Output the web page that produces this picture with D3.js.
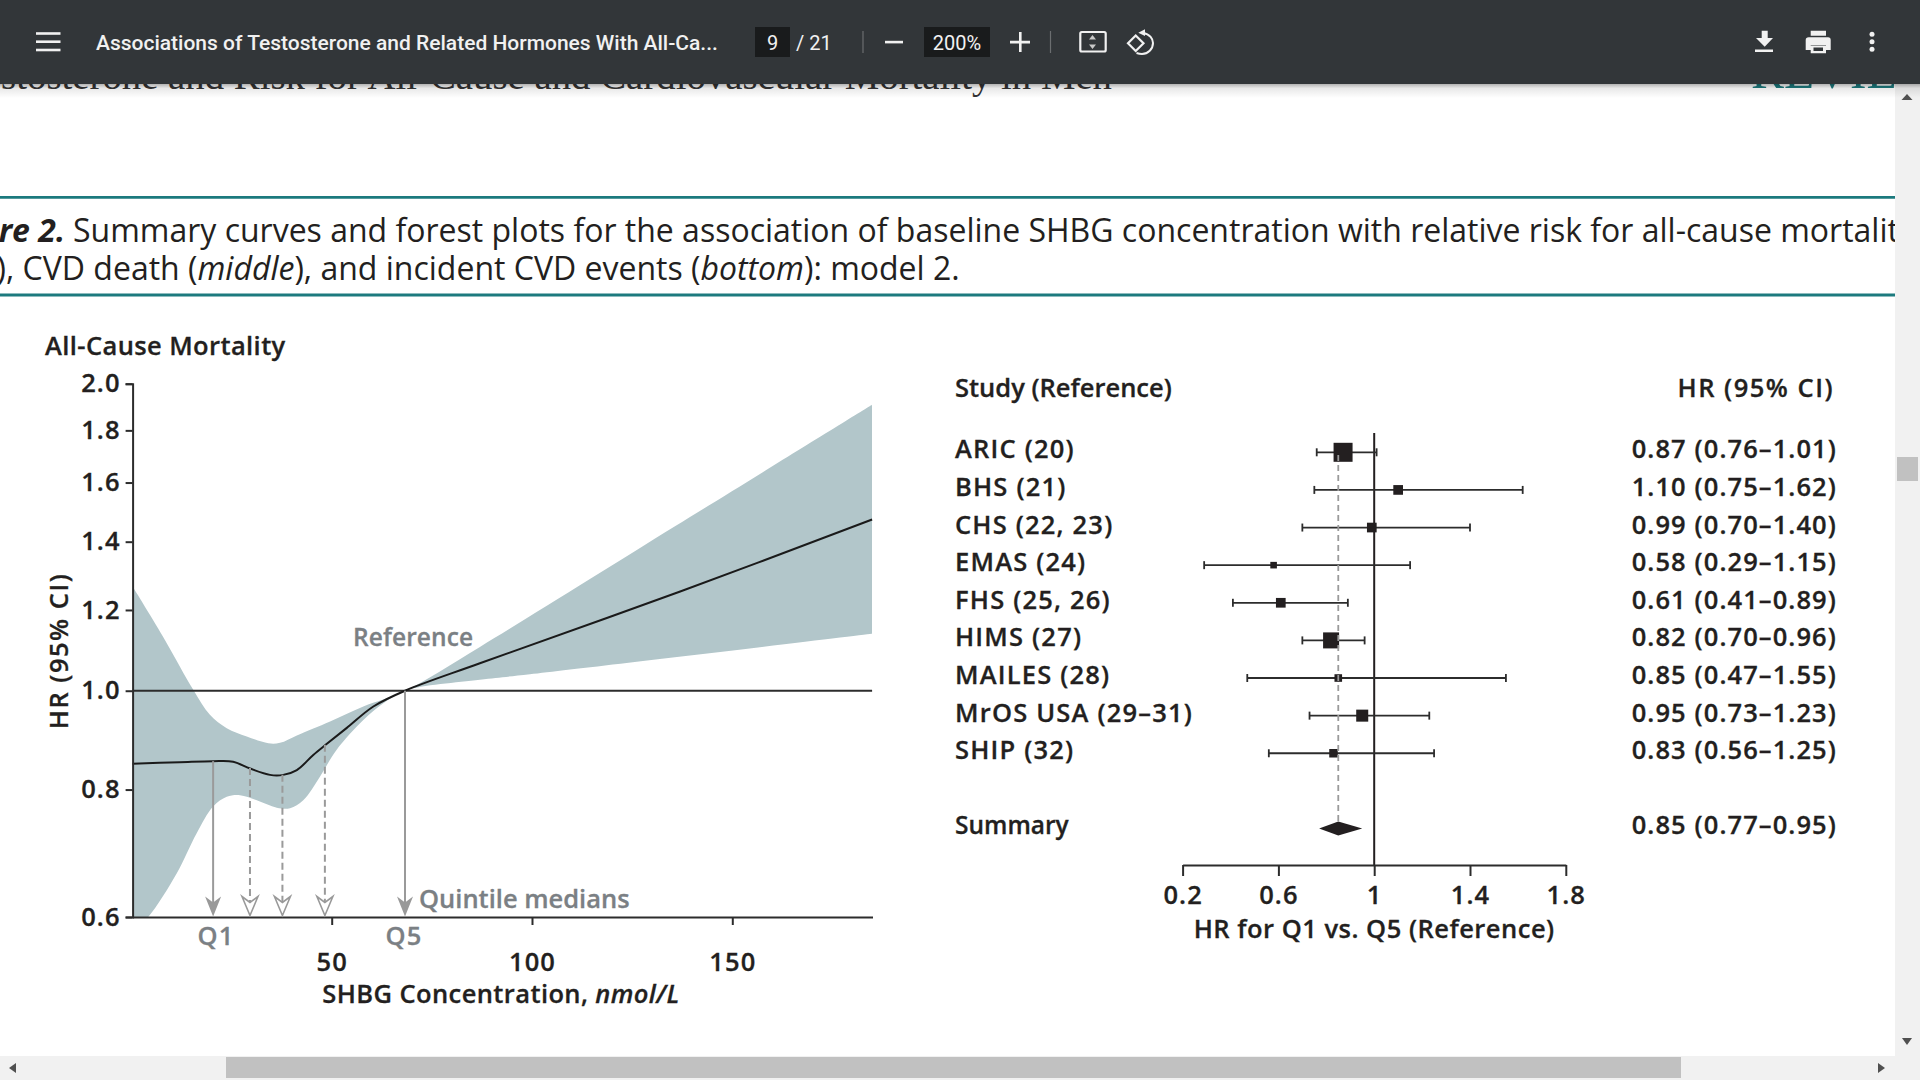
<!DOCTYPE html>
<html>
<head>
<meta charset="utf-8">
<title>SHBG and all-cause mortality</title>
<script src="https://cdn.jsdelivr.net/npm/d3@7"></script>
<style>
    html, body { margin: 0; padding: 0; background: #fff; overflow: hidden; }
    svg { display: block; }
    text { font-family: "Open Sans", sans-serif; }
    .chart-text { font-weight: 600; fill: #231f20; stroke: #231f20; stroke-width: 0.3px; font-size: 25.5px; }
    .grey-text { font-weight: 600; fill: #7b8084; stroke: #7b8084; stroke-width: 0.3px; font-size: 25.5px; }
    .caption { font-size: 32px; fill: #231f20; }
    .toolbar-text { font-family: Roboto, sans-serif; fill: #f1f1f1; font-size: 20px; }
</style>
</head>
<body>
<div id="chart"></div>
<script>
// Summary curve: [SHBG nmol/L, HR]
const curveCenter = [[0.3, 0.848], [12.1, 0.851], [20.4, 0.853], [25.4, 0.852], [29.6, 0.839], [34.6, 0.827], [37.9, 0.827],
    [41.3, 0.836], [45.4, 0.865], [48.8, 0.887], [53.7, 0.919], [60.4, 0.965], [68.3, 1.0], [87, 1.064], [137, 1.251], [184.9, 1.472]];
const curveUpper = [[0.3, 1.265], [8.4, 1.121], [15.45, 1.002], [19.6, 0.947], [23.8, 0.919], [28.8, 0.902], [34.2, 0.888], [37.1, 0.889],
    [41.3, 0.904], [49.6, 0.933], [57.9, 0.965], [68.3, 1.0], [87, 1.104], [135.9, 1.451], [184.9, 1.907]];
const curveLower = [[0.3, 0.58], [4.2, 0.6], [11.3, 0.662], [16.3, 0.725], [20.4, 0.77], [23.8, 0.787], [27.1, 0.79], [31.3, 0.781], [36.3, 0.768],
    [39.6, 0.767], [42.9, 0.781], [47.1, 0.824], [51.2, 0.875], [57.9, 0.936], [62.9, 0.972], [68.3, 1.0], [87, 1.025], [99.5, 1.038], [184.9, 1.137]];

// Quintile medians
const quintileShbg = [20.4, 29.6, 37.7, 48.3, 68.3];
const quintileHr = [0.853, 0.84, 0.827, 0.885, 1.0];
const quintileSolid = [true, false, false, false, true];

const curveYTicks = [0.6, 0.8, 1.0, 1.2, 1.4, 1.6, 1.8, 2.0];
const curveXTicks = [50, 100, 150];

// Forest plot
const studies = ["ARIC (20)", "BHS (21)", "CHS (22, 23)", "EMAS (24)", "FHS (25, 26)", "HIMS (27)", "MAILES (28)", "MrOS USA (29–31)", "SHIP (32)"];
const studyHr = [0.87, 1.10, 0.99, 0.58, 0.61, 0.82, 0.85, 0.95, 0.83];
const studyLow = [0.76, 0.75, 0.70, 0.29, 0.41, 0.70, 0.47, 0.73, 0.56];
const studyHigh = [1.01, 1.62, 1.40, 1.15, 0.89, 0.96, 1.55, 1.23, 1.25];
const studyWeight = [100, 26, 26, 12, 26, 71, 16, 40, 20];
const summaryHr = [0.85, 0.77, 0.95];
const forestTicks = [0.2, 0.6, 1, 1.4, 1.8];

const svg = d3.select("#chart").append("svg")
    .attr("width", 1920)
    .attr("height", 1080);

function hrLabel(hr, low, high) {
    return hr.toFixed(2) + " (" + low.toFixed(2) + "–" + high.toFixed(2) + ")";
}

function renderPageText() {
    // Running head that scrolled under the toolbar
    svg.append("text")
        .attr("x", 1112).attr("y", 89)
        .attr("text-anchor", "end")
        .style("font-family", "'Liberation Serif', serif")
        .style("font-size", "38.8px")
        .style("fill", "#333")
        .text("Testosterone and Risk for All-Cause and Cardiovascular Mortality in Men");
    svg.append("text")
        .attr("x", 1751).attr("y", 88)
        .style("font-family", "'Liberation Serif', serif")
        .style("font-size", "49.5px")
        .style("fill", "#1c7a7e")
        .text("REVIEW");

    svg.selectAll("caption-rule")
        .data([197.3, 295])
        .enter()
        .append("line")
        .attr("x1", 0).attr("x2", 1895)
        .attr("y1", function (d) { return d; })
        .attr("y2", function (d) { return d; })
        .style("stroke", "#1c7a7e")
        .style("stroke-width", 2.8);

    svg.append("text")
        .attr("class", "caption")
        .attr("x", 65).attr("y", 242)
        .attr("text-anchor", "end")
        .style("font-weight", 700)
        .style("font-style", "italic")
        .text("Figure 2.");
    svg.append("text")
        .attr("class", "caption")
        .attr("x", 73).attr("y", 242)
        .text("Summary curves and forest plots for the association of baseline SHBG concentration with relative risk for all-cause mortality (top)");

    const head = svg.append("text").attr("class", "caption").attr("x", 6).attr("y", 280).attr("text-anchor", "end");
    head.append("tspan").text("(");
    head.append("tspan").style("font-style", "italic").text("top");
    head.append("tspan").text(")");

    const line2 = svg.append("text").attr("class", "caption").attr("x", 6).attr("y", 280);
    line2.append("tspan").text(", CVD death (");
    line2.append("tspan").style("font-style", "italic").text("middle");
    line2.append("tspan").text("), and incident CVD events (");
    line2.append("tspan").style("font-style", "italic").text("bottom");
    line2.append("tspan").text("): model 2.");
}

function renderCurveChart() {
    const x = d3.scaleLinear()
        .domain([0.3, 185])
        .range([132.6, 872.5]);
    const y = d3.scaleLog()
        .domain([0.6, 2])
        .range([917, 383.7]);

    const line = d3.line()
        .x(function (d) { return x(d[0]); })
        .y(function (d) { return y(d[1]); })
        .curve(d3.curveCatmullRom.alpha(0.5));

    svg.append("clipPath")
        .attr("id", "curve-clip")
        .append("rect")
        .attr("x", x(0.3)).attr("y", y(2))
        .attr("width", x(184.9) - x(0.3)).attr("height", y(0.6) - y(2));

    // Confidence band: upper edge, then lower edge walked backwards
    const upperPath = line(curveUpper);
    const lowerPath = line(curveLower.slice().reverse());
    svg.append("path")
        .attr("d", upperPath + "L" + lowerPath.slice(1) + "Z")
        .attr("clip-path", "url(#curve-clip)")
        .style("fill", "#b2c6ca");

    // Reference line
    svg.append("line")
        .attr("x1", x(0.3)).attr("x2", x(184.9))
        .attr("y1", y(1)).attr("y2", y(1))
        .style("stroke", "#2c2c2c")
        .style("stroke-width", 1.8);

    svg.append("path")
        .attr("d", line(curveCenter))
        .style("fill", "none")
        .style("stroke", "#1a1a1a")
        .style("stroke-width", 2);

    // Y axis
    const yAxis = svg.append("g")
        .attr("transform", "translate(" + x(0.3) + ",0)")
        .call(d3.axisLeft(y).tickValues(curveYTicks).tickFormat(d3.format(".1f")).tickSize(7).tickPadding(5));
    // X axis
    const xAxis = svg.append("g")
        .attr("transform", "translate(0," + y(0.6) + ")")
        .call(d3.axisBottom(x).tickValues(curveXTicks).tickSize(8).tickSizeOuter(0).tickPadding(28.2));
    [yAxis, xAxis].forEach(function (axis) {
        axis.select(".domain").style("stroke", "#2c2c2c").style("stroke-width", 2);
        axis.selectAll(".tick line").style("stroke", "#2c2c2c").style("stroke-width", 2);
        axis.selectAll("text").attr("class", "chart-text").style("letter-spacing", "1.1px");
    });

    // Quintile arrows
    const arrows = svg.selectAll("quintile-arrow")
        .data(quintileShbg)
        .enter()
        .append("g");
    arrows.append("line")
        .attr("x1", function (d) { return x(d); })
        .attr("x2", function (d) { return x(d); })
        .attr("y1", function (d, i) { return y(quintileHr[i]); })
        .attr("y2", function (d, i) { return y(0.6) - 12; })
        .style("stroke", "#9a9a9a")
        .style("stroke-width", 2)
        .style("stroke-dasharray", function (d, i) { return quintileSolid[i] ? null : "7,4"; });
    arrows.append("path")
        .attr("transform", function (d) { return "translate(" + x(d) + "," + (y(0.6) - 0.5) + ")"; })
        .attr("d", function (d, i) {
            return quintileSolid[i] ? "M0,0L-8,-20L0,-14L8,-20Z" : "M0,-1L-8,-20L0,-14L8,-20Z";
        })
        .style("fill", function (d, i) { return quintileSolid[i] ? "#999" : "#fff"; })
        .style("stroke", "#999")
        .style("stroke-width", function (d, i) { return quintileSolid[i] ? 0 : 1.6; });

    svg.append("text")
        .attr("class", "grey-text")
        .attr("x", 353).attr("y", 646)
        .style("font-size", "24.5px")
        .style("letter-spacing", "0.1px")
        .text("Reference");
    svg.append("text")
        .attr("class", "grey-text")
        .attr("x", 419).attr("y", 908)
        .text("Quintile medians");
    svg.selectAll("quintile-name")
        .data([["Q1", x(quintileShbg[0]) + 3], ["Q5", x(quintileShbg[4]) - 1]])
        .enter()
        .append("text")
        .attr("class", "grey-text")
        .attr("x", function (d) { return d[1]; })
        .attr("y", 945)
        .attr("text-anchor", "middle")
        .style("letter-spacing", "1.2px")
        .text(function (d) { return d[0]; });

    svg.append("text")
        .attr("class", "chart-text")
        .attr("x", 45).attr("y", 355)
        .style("letter-spacing", "0.4px")
        .text("All-Cause Mortality");
    svg.append("text")
        .attr("class", "chart-text")
        .attr("transform", "translate(68,651) rotate(-90)")
        .attr("text-anchor", "middle")
        .style("letter-spacing", "1.5px")
        .text("HR (95% CI)");

    const xTitle = svg.append("text")
        .attr("class", "chart-text")
        .attr("x", 501).attr("y", 1002.5)
        .attr("text-anchor", "middle")
        .style("letter-spacing", "0.4px");
    xTitle.append("tspan").text("SHBG Concentration, ");
    xTitle.append("tspan").style("font-style", "italic").text("nmol/L");
}

function renderForestPlot() {
    const x = d3.scaleLinear()
        .domain([0.2, 1.8])
        .range([1182.6, 1565.8]);
    const row = d3.scaleLinear()
        .domain([0, 10])
        .range([452.3, 828.5]);
    const box = d3.scaleSqrt()
        .domain([0, 100])
        .range([0, 19]);

    // Line of no effect
    svg.append("line")
        .attr("x1", x(1)).attr("x2", x(1))
        .attr("y1", 433).attr("y2", 865)
        .style("stroke", "#231f20")
        .style("stroke-width", 2);

    const rows = svg.selectAll("forest-row")
        .data(studies)
        .enter()
        .append("g")
        .attr("transform", function (d, i) { return "translate(0," + row(i) + ")"; });

    rows.append("line")
        .attr("x1", function (d, i) { return x(studyLow[i]); })
        .attr("x2", function (d, i) { return x(studyHigh[i]); })
        .style("stroke", "#2c2c2c")
        .style("stroke-width", 1.8);
    [studyLow, studyHigh].forEach(function (ends) {
        rows.append("line")
            .attr("x1", function (d, i) { return x(ends[i]); })
            .attr("x2", function (d, i) { return x(ends[i]); })
            .attr("y1", -4).attr("y2", 4)
            .style("stroke", "#2c2c2c")
            .style("stroke-width", 1.8);
    });
    rows.append("rect")
        .attr("x", function (d, i) { return x(studyHr[i]) - box(studyWeight[i]) / 2; })
        .attr("y", function (d, i) { return -box(studyWeight[i]) / 2; })
        .attr("width", function (d, i) { return box(studyWeight[i]); })
        .attr("height", function (d, i) { return box(studyWeight[i]); })
        .style("fill", "#231f20");
    rows.append("text")
        .attr("class", "chart-text")
        .attr("x", 955).attr("y", 6)
        .style("letter-spacing", "1.2px")
        .text(function (d) { return d; });
    rows.append("text")
        .attr("class", "chart-text")
        .attr("x", 1837).attr("y", 6)
        .attr("text-anchor", "end")
        .style("letter-spacing", "1.1px")
        .text(function (d, i) { return hrLabel(studyHr[i], studyLow[i], studyHigh[i]); });

    // Summary estimate, dashed line sits on top of the boxes
    svg.append("line")
        .attr("x1", x(summaryHr[0])).attr("x2", x(summaryHr[0]))
        .attr("y1", 455).attr("y2", 822)
        .style("stroke", "#9a9a9a")
        .style("stroke-width", 1.8)
        .style("stroke-dasharray", "6,4");
    svg.append("path")
        .attr("d", "M" + x(summaryHr[1]) + "," + row(10)
            + "L" + x(summaryHr[0]) + "," + (row(10) - 7)
            + "L" + x(summaryHr[2]) + "," + row(10)
            + "L" + x(summaryHr[0]) + "," + (row(10) + 7) + "Z")
        .style("fill", "#231f20");
    svg.append("text")
        .attr("class", "chart-text")
        .attr("x", 955).attr("y", row(10) + 5)
        .style("font-size", "24.5px")
        .text("Summary");
    svg.append("text")
        .attr("class", "chart-text")
        .attr("x", 1837).attr("y", row(10) + 5)
        .attr("text-anchor", "end")
        .style("letter-spacing", "1.1px")
        .text(hrLabel(summaryHr[0], summaryHr[1], summaryHr[2]));

    svg.append("text")
        .attr("class", "chart-text")
        .attr("x", 955).attr("y", 396.5)
        .text("Study (Reference)");
    svg.append("text")
        .attr("class", "chart-text")
        .attr("x", 1834).attr("y", 396.5)
        .attr("text-anchor", "end")
        .style("letter-spacing", "1.5px")
        .text("HR (95% CI)");

    const axis = svg.append("g")
        .attr("transform", "translate(0,865)")
        .call(d3.axisBottom(x).tickValues(forestTicks).tickFormat(function (d) { return d; }).tickSize(11).tickSizeOuter(0).tickPadding(9.5));
    axis.select(".domain").style("stroke", "#2c2c2c").style("stroke-width", 2);
    axis.selectAll(".tick line").style("stroke", "#2c2c2c").style("stroke-width", 2);
    axis.selectAll("text").attr("class", "chart-text").style("letter-spacing", "1.1px");

    svg.append("text")
        .attr("class", "chart-text")
        .attr("x", x(1)).attr("y", 938)
        .attr("text-anchor", "middle")
        .style("letter-spacing", "0.5px")
        .text("HR for Q1 vs. Q5 (Reference)");
}

function renderViewerChrome() {
    const defs = svg.append("defs");
    const shade = defs.append("linearGradient")
        .attr("id", "toolbar-shadow")
        .attr("x1", 0).attr("x2", 0).attr("y1", 0).attr("y2", 1);
    shade.append("stop").attr("offset", 0).attr("stop-color", "#000").attr("stop-opacity", 0.3);
    shade.append("stop").attr("offset", 0.3).attr("stop-color", "#000").attr("stop-opacity", 0.09);
    shade.append("stop").attr("offset", 1).attr("stop-color", "#000").attr("stop-opacity", 0);

    // Scrollbars
    svg.append("rect").attr("x", 1895).attr("y", 84).attr("width", 25).attr("height", 996).style("fill", "#f1f1f1");
    svg.append("rect").attr("x", 0).attr("y", 1056).attr("width", 1920).attr("height", 24).style("fill", "#f1f1f1");
    svg.append("rect").attr("x", 1897).attr("y", 457).attr("width", 21).attr("height", 24).style("fill", "#c1c1c1");
    svg.append("rect").attr("x", 226).attr("y", 1057).attr("width", 1455).attr("height", 21).style("fill", "#c1c1c1");
    svg.selectAll("scroll-arrow")
        .data(["M1901.5,100L1912.5,100L1907,94Z", "M1902,1038L1912,1038L1907,1045Z", "M16,1063L16,1073L9,1068Z", "M1878,1063L1878,1073L1885,1068Z"])
        .enter()
        .append("path")
        .attr("d", function (d) { return d; })
        .style("fill", "#505050");

    // Toolbar
    svg.append("rect").attr("x", 0).attr("y", 84).attr("width", 1920).attr("height", 14).style("fill", "url(#toolbar-shadow)");
    svg.append("rect").attr("x", 0).attr("y", 0).attr("width", 1920).attr("height", 84).style("fill", "#323639");

    svg.selectAll("menu-bar")
        .data([33.5, 41.7, 50])
        .enter()
        .append("rect")
        .attr("x", 36).attr("y", function (d) { return d - 1.3; })
        .attr("width", 24.5).attr("height", 2.6)
        .style("fill", "#f1f1f1");

    svg.append("text")
        .attr("class", "toolbar-text")
        .attr("x", 96).attr("y", 50)
        .style("font-weight", 500)
        .style("font-size", "21px")
        .text("Associations of Testosterone and Related Hormones With All-Ca...");

    svg.append("rect").attr("x", 755).attr("y", 27).attr("width", 35).attr("height", 30).style("fill", "#191b1c");
    svg.append("text").attr("class", "toolbar-text").attr("x", 772.5).attr("y", 50).attr("text-anchor", "middle").text("9");
    svg.append("text").attr("class", "toolbar-text").attr("x", 796).attr("y", 50).text("/ 21");
    svg.append("rect").attr("x", 924).attr("y", 27).attr("width", 66).attr("height", 30).style("fill", "#191b1c");
    svg.append("text").attr("class", "toolbar-text").attr("x", 957).attr("y", 50).attr("text-anchor", "middle").text("200%");

    svg.selectAll("toolbar-sep")
        .data([863, 1050.5])
        .enter()
        .append("line")
        .attr("x1", function (d) { return d; }).attr("x2", function (d) { return d; })
        .attr("y1", 31).attr("y2", 53)
        .style("stroke", "#6b6e70")
        .style("stroke-width", 1.2);

    // Toolbar icons
    const icons = svg.append("g").style("fill", "#f1f1f1").style("stroke", "none");
    icons.append("path").attr("d", "M885,40.8H903V43.4H885Z");
    icons.append("path").attr("d", "M1010,40.8H1019V32H1021.6V40.8H1030V43.4H1021.6V52H1019V43.4H1010Z");
    icons.append("rect").attr("x", 1080.3).attr("y", 32).attr("width", 25.4).attr("height", 19.5).attr("rx", 1.5)
        .style("fill", "none").style("stroke", "#f1f1f1").style("stroke-width", 2.2);
    icons.append("path").attr("d", "M1092.5,35L1096,39.5H1089ZM1092.5,49L1096,44.5H1089Z").style("fill", "#c8c8c8");
    icons.append("path").attr("d", "M1135.7,35.5L1143.5,43.3L1135.7,51L1128,43.3Z")
        .style("fill", "none").style("stroke", "#f1f1f1").style("stroke-width", 2.2);
    icons.append("path").attr("d", "M1143,33C1150,34 1153,39 1153,43C1153,49 1148,54 1142,54C1140,54 1138,53.5 1136.5,53")
        .style("fill", "none").style("stroke", "#f1f1f1").style("stroke-width", 2);
    icons.append("path").attr("d", "M1138.3,32.7L1145,29.3V36Z");
    icons.append("path").attr("d", "M1761.7,30.7H1767.7V38H1773L1764.7,46.7L1756,38H1761.7ZM1755,49.5H1773V52H1755Z");
    icons.append("path").attr("d", "M1810.7,30.7H1826V35.7H1810.7ZM1808.7,37.3H1828Q1830.7,37.3 1830.7,40V50H1826V45H1810.7V50H1805.7V40Q1805.7,37.3 1808.7,37.3ZM1810.7,45.5H1826V53.3H1810.7ZM1813.5,47.5V51H1823V47.5Z")
        .attr("fill-rule", "evenodd");
    icons.selectAll("more-dot")
        .data([34.3, 41.7, 49.3])
        .enter()
        .append("circle")
        .attr("cx", 1872).attr("cy", function (d) { return d; }).attr("r", 2.5);
}

renderPageText();
renderCurveChart();
renderForestPlot();
renderViewerChrome();
</script>
</body>
</html>
